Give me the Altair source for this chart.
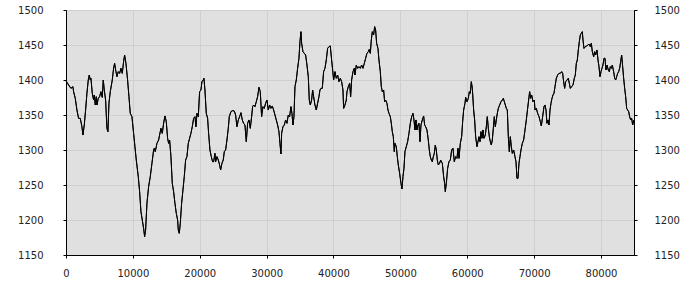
import altair as alt
import pandas as pd

steps_a = [0, 389, 738, 1037, 1137, 1386, 1635, 1884, 2134, 2383, 2532, 2732, 2931, 3131, 3330, 3480, 3629, 3729,
           3928, 4128, 4227, 4377, 4527, 4626, 4826, 5025, 5225, 5424, 5574, 5723, 5923, 6122, 6272, 6421, 6621,
           6920, 7119, 7269, 7468, 7618, 7817, 8017, 8216, 8416, 8615, 8764, 8964, 9213, 9412, 9612, 9861, 10110,
           10310, 10509, 10808, 11008, 11207, 11407, 11606, 11756, 11905, 12105, 12354, 12603, 12852, 13102,
           13201, 13351, 13600, 13850]
price_a = [1398.6, 1392.9, 1388.1, 1390.5, 1383.3, 1373.8, 1357.1, 1345.2, 1345.2, 1333.3, 1321.4, 1335.7, 1357.1,
           1381.0, 1400.0, 1407.1, 1400.0, 1402.4, 1381.0, 1371.4, 1378.6, 1364.3, 1376.2, 1364.3, 1373.8, 1376.2,
           1383.3, 1375.2, 1400.0, 1385.7, 1371.4, 1331.0, 1326.2, 1366.7, 1383.3, 1400.0, 1416.7, 1423.8, 1411.9,
           1404.8, 1411.9, 1409.5, 1416.7, 1409.5, 1426.2, 1435.7, 1423.8, 1400.0, 1376.2, 1352.4, 1347.6, 1323.8,
           1304.8, 1285.7, 1261.9, 1240.5, 1211.9, 1200.0, 1188.1, 1176.2, 1185.7, 1223.8, 1247.6, 1261.9, 1281.0,
           1300.0, 1302.4, 1297.6, 1309.5, 1314.3]

steps_b = [14199, 14398, 14597, 14797, 14996, 15196, 15345, 15495, 15694, 15893, 16093, 16292, 16492, 16691, 16791,
           16940, 17090, 17289, 17489, 17688, 17887, 18087, 18286, 18486, 18685, 18884, 19084, 19283, 19433, 19582,
           19782, 19981, 20181, 20330, 20529, 20629, 20779, 20978, 21178, 21327, 21526, 21726, 21925, 22075, 22274,
           22374, 22573, 22773, 22972, 23122, 23321, 23520, 23670, 23869, 24069, 24268, 24418, 24667, 24916, 25166,
           25365, 25564, 25764, 25963, 26163, 26362, 26561, 26761, 26960, 27160, 27359, 27558, 27758, 27907]
price_b = [1331.0, 1323.8, 1338.1, 1348.6, 1340.5, 1316.7, 1309.5, 1314.3, 1290.5, 1252.4, 1240.5, 1223.8, 1209.5,
           1200.0, 1185.7, 1181.0, 1195.2, 1223.8, 1242.9, 1261.9, 1285.7, 1290.5, 1309.5, 1316.7, 1323.8, 1333.3,
           1345.2, 1347.6, 1333.3, 1352.4, 1347.6, 1383.3, 1385.7, 1397.6, 1400.0, 1402.4, 1385.7, 1352.4, 1345.2,
           1323.8, 1300.0, 1290.5, 1283.3, 1283.3, 1295.2, 1283.3, 1290.5, 1285.7, 1278.6, 1271.4, 1281.0, 1285.7,
           1297.6, 1300.0, 1314.3, 1331.0, 1347.6, 1354.8, 1356.2, 1355.7, 1350.0, 1333.3, 1342.9, 1347.6, 1353.3,
           1342.9, 1338.1, 1335.7, 1311.9, 1338.1, 1342.9, 1331.0, 1347.6, 1361.9]

steps_c = [28057, 28257, 28456, 28655, 28855, 29054, 29254, 29453, 29652, 29852, 30051, 30251, 30450, 30649, 30849,
           31048, 31248, 31447, 31646, 31846, 31995, 32145, 32245, 32444, 32643, 32843, 33042, 33242, 33441, 33640,
           33790, 33940, 34089, 34239, 34438, 34637, 34837, 34986, 35136, 35236, 35435, 35634, 35834, 36033, 36233,
           36382, 36532, 36731, 36881, 37030, 37230, 37429, 37628, 37828, 37977, 38127, 38326, 38526, 38725, 38924,
           39124, 39323, 39523, 39722, 39872, 40021, 40221, 40420, 40620, 40819, 41018, 41218, 41417, 41517, 41716,
           41916]
price_c = [1364.3, 1361.9, 1369.0, 1376.2, 1389.5, 1383.3, 1347.6, 1361.9, 1359.5, 1366.7, 1371.4, 1357.1, 1364.3,
           1359.5, 1362.9, 1357.1, 1350.0, 1342.9, 1335.7, 1326.2, 1309.5, 1294.3, 1323.8, 1333.3, 1335.7, 1342.9,
           1338.1, 1350.0, 1347.6, 1361.9, 1352.4, 1335.7, 1347.6, 1390.5, 1400.0, 1416.7, 1431.0, 1454.8, 1469.0,
           1452.4, 1440.5, 1438.1, 1435.7, 1421.4, 1404.8, 1371.4, 1364.3, 1371.4, 1385.7, 1376.2, 1364.3, 1357.1,
           1366.7, 1376.2, 1385.7, 1388.1, 1388.1, 1411.9, 1416.7, 1428.6, 1445.2, 1447.6, 1448.6, 1428.6, 1414.3,
           1400.0, 1411.9, 1402.4, 1407.1, 1397.6, 1402.4, 1397.6, 1385.7, 1359.5, 1364.3, 1371.4]

steps_d = [42016, 42216, 42415, 42565, 42714, 42914, 43113, 43213, 43412, 43612, 43811, 44010, 44210, 44409, 44609,
           44808, 45007, 45207, 45356, 45506, 45655, 45805, 46004, 46154, 46304, 46453, 46652, 46802, 47001, 47151,
           47301, 47500, 47649, 47799, 47998, 48148, 48298, 48497, 48647, 48796, 48946, 49095, 49195, 49394, 49544,
           49693, 49893, 50092, 50242, 50391, 50541, 50690, 50890, 51089, 51289, 51488, 51688, 51887, 52037, 52186,
           52336, 52485, 52635, 52784, 52934, 53083, 53283, 53482, 53632, 53781, 53980, 54180, 54329, 54479, 54629,
           54778, 54928, 55077, 55227, 55376, 55526, 55675, 55875, 56024]
price_d = [1383.3, 1390.5, 1395.2, 1376.2, 1400.0, 1411.9, 1416.7, 1407.1, 1421.4, 1416.7, 1419.0, 1416.7, 1421.4,
           1416.7, 1423.8, 1431.0, 1438.1, 1440.5, 1443.8, 1438.1, 1457.1, 1469.0, 1464.3, 1476.2, 1471.4, 1452.4,
           1445.2, 1428.6, 1411.9, 1390.5, 1383.3, 1385.7, 1369.0, 1371.4, 1366.7, 1357.1, 1352.4, 1347.6, 1338.1,
           1326.2, 1319.0, 1297.6, 1309.5, 1304.8, 1290.5, 1278.6, 1266.7, 1252.4, 1244.3, 1261.9, 1273.8, 1297.6,
           1304.8, 1311.9, 1323.8, 1338.1, 1347.6, 1352.4, 1342.9, 1328.6, 1342.9, 1328.6, 1335.7, 1338.1, 1311.9,
           1335.7, 1342.9, 1348.6, 1335.7, 1333.3, 1328.6, 1314.3, 1300.0, 1290.5, 1285.7, 1283.3, 1290.5, 1295.2,
           1307.1, 1300.0, 1285.7, 1278.6, 1281.0, 1285.7]

steps_e = [56275, 56474, 56624, 56723, 56873, 57072, 57272, 57471, 57671, 57870, 58069, 58269, 58468, 58618, 58767,
           58967, 59166, 59316, 59465, 59665, 59764, 59964, 60163, 60313, 60462, 60612, 60761, 60961, 61110, 61260,
           61459, 61609, 61758, 61908, 62057, 62207, 62357, 62506, 62705, 62855, 63004, 63154, 63304, 63453, 63603,
           63752, 63902, 64051, 64201, 64351, 64500, 64650, 64849, 65048, 65248, 65397, 65547, 65697, 65846, 65996,
           66145, 66295, 66444, 66594, 66743, 66943, 67142, 67292, 67441, 67591, 67740, 67890, 68039, 68239, 68438,
           68638, 68837, 69036, 69186, 69336, 69485, 69635, 69834, 70034]
price_e = [1281.0, 1261.9, 1252.4, 1240.5, 1252.4, 1273.8, 1283.3, 1285.7, 1300.0, 1302.4, 1283.3, 1290.5, 1288.1,
           1302.4, 1288.1, 1309.5, 1319.0, 1340.5, 1357.1, 1366.7, 1375.2, 1369.0, 1373.8, 1383.3, 1381.0, 1397.6,
           1388.1, 1357.1, 1342.9, 1319.0, 1304.8, 1311.9, 1319.0, 1311.9, 1326.2, 1316.7, 1328.6, 1316.7, 1321.4,
           1333.3, 1347.6, 1331.0, 1319.0, 1311.9, 1307.1, 1314.3, 1331.0, 1347.6, 1333.3, 1342.9, 1352.4, 1359.5,
           1364.3, 1369.0, 1371.4, 1373.8, 1369.0, 1364.3, 1359.5, 1357.1, 1319.0, 1297.6, 1319.0, 1304.8, 1295.2,
           1300.0, 1290.5, 1283.3, 1259.5, 1259.5, 1281.0, 1290.5, 1300.0, 1309.5, 1314.3, 1328.6, 1342.9, 1359.5,
           1371.4, 1383.3, 1373.8, 1378.6, 1369.0, 1371.4]

steps_f = [70133, 70333, 70532, 70732, 70931, 71081, 71280, 71479, 71629, 71778, 71928, 72078, 72227, 72377, 72526,
           72676, 72825, 72975, 73124, 73324, 73523, 73723, 73922, 74121, 74271, 74420, 74570, 74720, 74919, 75118,
           75268, 75418, 75617, 75816, 76016, 76165, 76315, 76464, 76614, 76763, 76913, 77063, 77212, 77312, 77461,
           77661, 77860, 78060, 78209, 78409, 78558, 78708, 78907, 79057, 79206, 79406, 79555, 79705, 79855, 80004,
           80154, 80303, 80453, 80602, 80752, 80901, 81101, 81250, 81400, 81549, 81699, 81898, 82048, 82197, 82347,
           82496, 82646, 82795, 82945, 83094, 83244, 83394, 83543, 83693, 83842, 83992, 84141, 84291, 84440, 84590,
           84739, 84940]
price_f = [1357.1, 1359.5, 1352.4, 1347.6, 1340.5, 1334.3, 1347.6, 1361.9, 1364.3, 1357.1, 1338.1, 1342.9, 1335.7,
           1357.1, 1366.7, 1373.8, 1378.6, 1381.0, 1390.5, 1402.4, 1407.1, 1409.5, 1409.5, 1411.9, 1409.5, 1397.6,
           1388.1, 1397.6, 1400.0, 1402.4, 1395.2, 1388.1, 1390.5, 1392.9, 1402.4, 1407.1, 1423.8, 1428.6, 1442.9,
           1454.8, 1464.3, 1466.7, 1469.0, 1457.1, 1445.2, 1447.6, 1448.6, 1450.0, 1451.4, 1447.6, 1452.4, 1440.5,
           1433.3, 1440.5, 1435.7, 1442.9, 1428.6, 1419.0, 1404.8, 1411.9, 1416.7, 1421.4, 1431.0, 1431.0, 1414.3,
           1421.4, 1414.3, 1411.9, 1419.0, 1416.7, 1421.4, 1411.9, 1402.4, 1400.0, 1404.8, 1409.5, 1411.9, 1416.7,
           1426.2, 1435.7, 1419.0, 1402.4, 1388.1, 1376.2, 1359.5, 1357.1, 1354.8, 1347.6, 1342.9, 1345.2, 1335.7,
           1342.9]

x_ticks = [0, 10000, 20000, 30000, 40000, 50000, 60000, 70000, 80000]
y_ticks = [1150, 1200, 1250, 1300, 1350, 1400, 1450, 1500]

steps = steps_a + steps_b + steps_c + steps_d + steps_e + steps_f
price = price_a + price_b + price_c + price_d + price_e + price_f
df = pd.DataFrame({"step": steps, "value": price})

font = "DejaVu Sans"
x_scale = alt.Scale(domain=[0, 84940], nice=False, zero=False)
y_scale = alt.Scale(domain=[1150, 1500], nice=False, zero=False)

x_enc = alt.X("step:Q", scale=x_scale,
              axis=alt.Axis(values=x_ticks, format="d", title=None, labelPadding=10,
                            grid=True, labelFlush=False))

left = alt.Chart(df).mark_line(color="black", strokeWidth=1).encode(
    x=x_enc,
    y=alt.Y("value:Q", scale=y_scale,
            axis=alt.Axis(values=y_ticks, format="d", title=None, orient="left",
                          labelPadding=20, grid=True, labelFlush=False)),
)
right = alt.Chart(df).mark_line(color="black", strokeWidth=1).encode(
    x=x_enc,
    y=alt.Y("value:Q", scale=y_scale,
            axis=alt.Axis(values=y_ticks, format="d", title=None, orient="right",
                          labelPadding=17, grid=False, labelAlign="left", labelFlush=False)),
)

chart = alt.layer(left, right).resolve_axis(y="independent").properties(
    width=568, height=245,
    autosize=alt.AutoSizeParams(type="none"),
    padding={"left": 66, "top": 10, "right": 66, "bottom": 45},
    background="white",
).configure_view(
    fill="#e0e0e0", stroke="black", strokeWidth=1
).configure_axis(
    domainColor="black", domainWidth=1, tickColor="black", tickSize=3, tickWidth=1,
    gridColor="#cfcfcf", gridWidth=1,
    labelFont=font, labelFontSize=10, labelColor="#222222",
)

chart.save("out.html", embed_options={"renderer": "svg", "actions": False})
